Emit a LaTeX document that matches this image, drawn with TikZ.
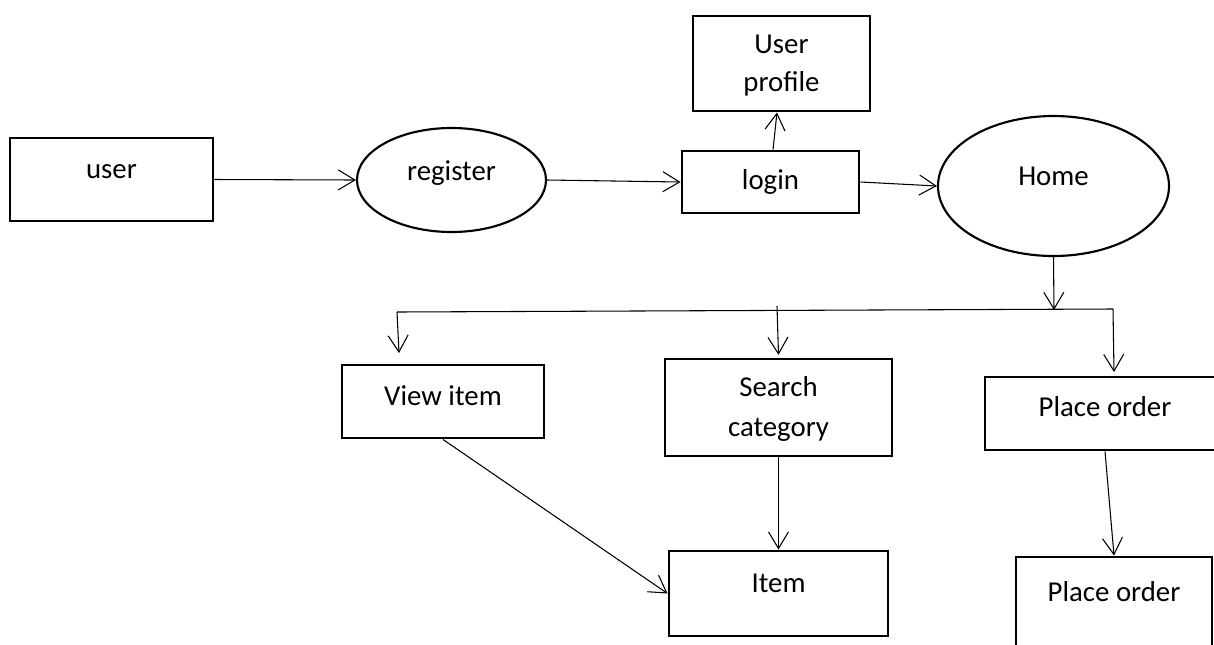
\documentclass[tikz,border=0pt]{standalone}
\usepackage{fontspec}
\setmainfont{Carlito}
\usetikzlibrary{arrows.meta,shapes.geometric}
\newcommand\lblfont{\fontsize{21.6}{29}\selectfont}
\begin{document}
\begin{tikzpicture}[x=0.75pt,y=-0.75pt,
  box/.style={draw, line width=2.2pt, rectangle, inner sep=0pt},
  oval/.style={draw, line width=1.6pt, ellipse, inner sep=0pt},
  conn/.style={line width=0.8pt},
  arr/.style={line width=0.8pt, -{Straight Barb[length=12.5pt,width=15pt,line width=0.8pt]}},
  every label/.style={font=\lblfont, inner sep=0pt, text=black, align=center}]
\useasboundingbox (0,0) rectangle (1214,644);
\clip (0,0) rectangle (1214,644);

% nodes
\node[box, minimum width=152.25pt, minimum height=62.25pt,
      label={[name=userT,yshift=6pt]center:user}] (user) at (111.5,179.5) {};
\node[oval, minimum width=141.75pt, minimum height=78pt,
      label={[name=registerT,yshift=5pt]center:register}] (register) at (451.5,180) {};
\node[box, minimum width=132.75pt, minimum height=46.5pt,
      label={[name=loginT]center:login}] (login) at (770.5,182) {};
\node[box, minimum width=132.75pt, minimum height=71.25pt,
      label={[name=profileT,yshift=-1.9pt,font=\fontsize{21.6}{28.5}\selectfont]center:User\\profile}] (profile) at (781.5,63.5) {};
\node[oval, minimum width=173.25pt, minimum height=105pt,
      label={[name=homeT,yshift=7.5pt]center:Home}] (home) at (1053.5,186) {};
\node[box, minimum width=151.5pt, minimum height=54.75pt,
      label={[name=viewT,yshift=4.1pt]center:View item}] (view) at (443,401.5) {};
\node[box, minimum width=170.25pt, minimum height=72.75pt,
      label={[name=searchT,yshift=-1.1pt,font=\fontsize{21.6}{30}\selectfont]center:Search\\category}] (search) at (778.5,407.5) {};
\node[box, minimum width=164.25pt, minimum height=63.75pt,
      label={[name=itemT,yshift=7.9pt]center:Item}] (item) at (778.5,593.5) {};
\node[box, minimum width=180pt, minimum height=54.75pt,
      label={[name=po1T,yshift=4.9pt]center:Place order}] (po1) at (1105,413.5) {};
\node[box, minimum width=147pt, minimum height=69.75pt,
      label={[name=po2T,yshift=8.6pt]center:Place order}] (po2) at (1114,603.5) {};

% free ends of the distribution line
\coordinate (bl) at (397,312);
\coordinate (br) at (1113,309);
\coordinate (hj) at (1054,310);
\coordinate (vt) at (399,353);
\coordinate (m0) at (777,306);
\coordinate (rt) at (1114,372);

% connectors
\draw[arr] (user.east) -- (register.west);
\draw[arr] (register.east) -- (login.west);
\draw[arr] ([xshift=1.9pt]login.north) -- ([xshift=-3.4pt]profile.south);
\draw[arr] (login.east) -- (home.west);
\draw[arr] (home.south) -- (hj);
\draw[conn] (bl) -- (br);
\draw[arr] (bl) -- (vt);
\draw[arr] (m0) -- ([yshift=2pt]search.north);
\draw[arr] (br) -- (rt);
\draw[arr] (view.south) -- (item.west);
\draw[arr] (search.south) -- (item.north);
\draw[arr] (po1.south) -- (po2.north);
\end{tikzpicture}
\end{document}
